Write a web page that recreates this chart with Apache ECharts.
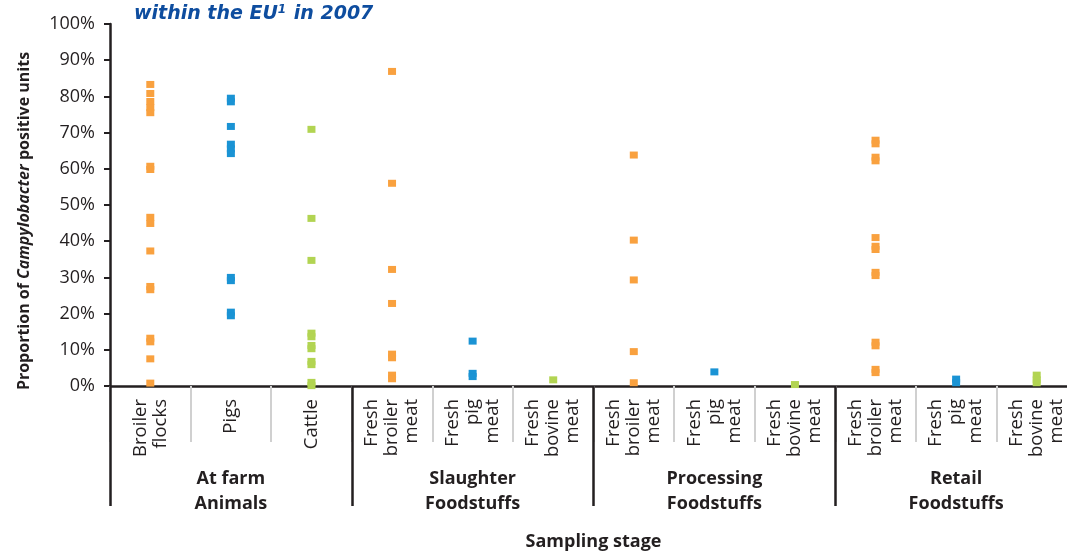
<!DOCTYPE html>
<html>
<head>
<meta charset="utf-8">
<script src="https://cdn.jsdelivr.net/npm/echarts@6/dist/echarts.min.js"></script>
<style>
html, body { margin: 0; padding: 0; background: #fff; }
#chart { width: 1067px; height: 552px; }
</style>
</head>
<body>
<div id="chart"></div>
<script>
// categories and groups of the sampling stage
var categories = ['Broiler\nflocks', 'Pigs', 'Cattle',
	'Fresh\nbroiler\nmeat', 'Fresh\npig\nmeat', 'Fresh\nbovine\nmeat',
	'Fresh\nbroiler\nmeat', 'Fresh\npig\nmeat', 'Fresh\nbovine\nmeat',
	'Fresh\nbroiler\nmeat', 'Fresh\npig\nmeat', 'Fresh\nbovine\nmeat'];
var groups = ['At farm\nAnimals', 'Slaughter\nFoodstuffs', 'Processing\nFoodstuffs', 'Retail\nFoodstuffs'];
var yTicks = [0, 10, 20, 30, 40, 50, 60, 70, 80, 90, 100];

// proportion positive (%) per member state
var farmBroiler = [83.3, 80.8, 78.6, 76.9, 75.5, 60.7, 59.8, 46.6, 44.9, 37.3, 27.5, 26.6, 13.2, 12.2, 7.5, 0.8];
var farmPigs = [79.5, 78.5, 71.7, 66.8, 65.5, 64.2, 30.0, 29.1, 20.4, 19.4];
var farmCattle = [70.9, 46.3, 34.7, 14.6, 13.6, 11.2, 10.3, 6.8, 5.9, 1.0, 0.1];
var slaughterBroiler = [86.9, 56.0, 32.2, 22.8, 8.8, 7.8, 3.0, 2.0];
var slaughterPig = [12.4, 3.5, 2.6];
var slaughterBovine = [1.7];
var processingBroiler = [63.8, 40.3, 29.3, 9.5, 0.9];
var processingPig = [3.9];
var processingBovine = [0.4];
var retailBroiler = [67.9, 66.9, 63.2, 62.2, 41.0, 38.6, 37.7, 31.4, 30.5, 12.1, 11.1, 4.6, 3.7];
var retailPig = [1.9, 0.9];
var retailBovine = [3.0, 1.7, 0.9];

var chart = echarts.init(document.getElementById('chart'));

function pts(idx, values) {
	var out = [];
	for (var i = 0; i < values.length; i++) {
		out.push([idx, values[i]]);
	}
	return out;
}

var broilerData = [].concat(pts(0, farmBroiler), pts(3, slaughterBroiler), pts(6, processingBroiler), pts(9, retailBroiler));
var pigData = [].concat(pts(1, farmPigs), pts(4, slaughterPig), pts(7, processingPig), pts(10, retailPig));
var bovineData = [].concat(pts(2, farmCattle), pts(5, slaughterBovine), pts(8, processingBovine), pts(11, retailBovine));

var dark = '#231F20';
var font = 'Open Sans';

var option = {
	animation: false,
	title: {
		text: 'within the EU{sup|1} in 2007',
		left: 129,
		top: -1,
		textStyle: {
			fontFamily: 'DejaVu Sans',
			fontSize: 19,
			fontWeight: 'bold',
			fontStyle: 'italic',
			color: '#0E4D9F',
			rich: {
				sup: { fontFamily: 'DejaVu Sans', fontSize: 12, fontWeight: 'bold', fontStyle: 'italic', color: '#0E4D9F', verticalAlign: 'top', padding: [0, 1, 8, 0] }
			}
		}
	},
	grid: {
		left: 110,
		right: -10,
		top: 24,
		bottom: 166,
		outerBoundsMode: 'none'
	},
	xAxis: [{
		type: 'category',
		position: 'bottom',
		data: categories,
		boundaryGap: true,
		axisLine: { show: true, onZero: false, lineStyle: { color: dark, width: 2.5 } },
		axisTick: { show: true, length: 56, lineStyle: { color: '#D0D0D0', width: 2 } },
		axisLabel: {
			rotate: 90,
			interval: 0,
			margin: 13,
			fontFamily: font,
			fontSize: 18.5,
			lineHeight: 20,
			color: dark
		},
		name: 'Sampling stage',
		nameLocation: 'middle',
		nameGap: 147,
		nameTextStyle: { fontFamily: font, fontSize: 18, fontWeight: 'bold', color: dark }
	}, {
		type: 'category',
		position: 'bottom',
		data: groups,
		boundaryGap: true,
		axisLine: { show: false, onZero: false },
		axisTick: { show: true, length: 120, lineStyle: { color: dark, width: 2.5 } },
		axisLabel: {
			interval: 0,
			margin: 80,
			fontFamily: font,
			fontSize: 18,
			fontWeight: 'bold',
			lineHeight: 25,
			color: dark
		}
	}],
	yAxis: {
		type: 'value',
		min: 0,
		max: 100,
		interval: 10,
		axisLine: { show: true, onZero: false, lineStyle: { color: dark, width: 2.5 } },
		axisTick: { show: true, length: 6, lineStyle: { color: dark, width: 2 } },
		splitLine: { show: false },
		axisLabel: {
			margin: 15,
			fontFamily: font,
			fontSize: 18,
			color: dark,
			formatter: function (v) { return yTicks.indexOf(v) >= 0 ? v + '%' : ''; }
		},
		name: '{b|Proportion of }{i|Campylobacter}{b| positive units}',
		nameLocation: 'middle',
		nameRotate: 90,
		nameGap: 78,
		nameTextStyle: {
			padding: [0, 32, 0, 0],
			rich: {
				b: { fontFamily: font, fontSize: 16, fontWeight: 'bold', color: dark },
				i: { fontFamily: font, fontSize: 16, fontWeight: 'bold', fontStyle: 'italic', color: dark }
			}
		}
	},
	series: [{
		name: 'Broiler',
		type: 'scatter',
		symbol: 'rect',
		symbolSize: [8, 7],
		itemStyle: { color: '#F9A13F', opacity: 1 },
		data: broilerData
	}, {
		name: 'Pig',
		type: 'scatter',
		symbol: 'rect',
		symbolSize: [8, 7],
		itemStyle: { color: '#1A93D4', opacity: 1 },
		data: pigData
	}, {
		name: 'Bovine',
		type: 'scatter',
		symbol: 'rect',
		symbolSize: [8, 7],
		itemStyle: { color: '#B2D452', opacity: 1 },
		data: bovineData
	}]
};

chart.setOption(option);
</script>
</body>
</html>
